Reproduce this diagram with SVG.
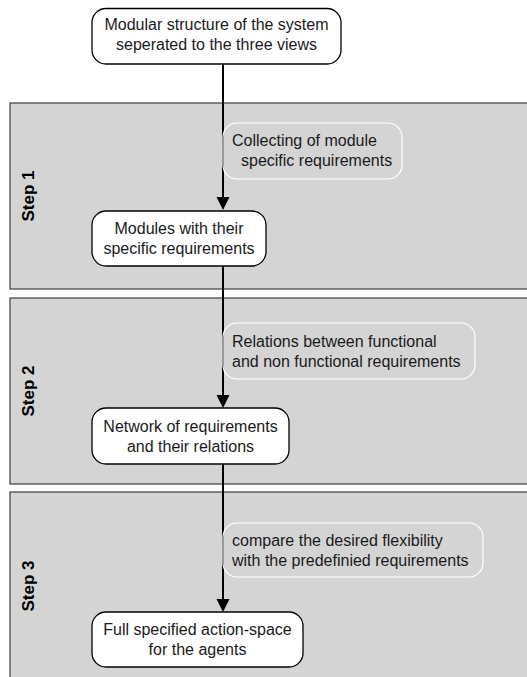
<svg xmlns="http://www.w3.org/2000/svg" width="527" height="677" viewBox="0 0 527 677">
  <defs>
    <style>
      .panel { fill: #d4d4d4; stroke: #3c3c3c; stroke-width: 1.2; }
      .node rect { fill: #ffffff; stroke: #000000; stroke-width: 1.3; }
      .note rect { fill: none; stroke: #ffffff; stroke-width: 1.2; }
      .txt { font-family: "Liberation Sans", Arial, sans-serif; font-size: 16px; fill: #1a1a1a; }
      .step { font-family: "Liberation Sans", Arial, sans-serif; font-size: 17px; font-weight: bold; fill: #000000; }
      .edge { stroke: #000000; stroke-width: 2; fill: none; }
      .head { fill: #000000; }
    </style>
  </defs>

  <!-- step panels -->
  <g id="step1">
    <rect class="panel" x="10" y="103" width="530" height="186"/>
    <text class="step" transform="translate(34 196) rotate(-90)" text-anchor="middle">Step 1</text>
  </g>
  <g id="step2">
    <rect class="panel" x="10" y="298" width="530" height="186"/>
    <text class="step" transform="translate(34 391) rotate(-90)" text-anchor="middle">Step 2</text>
  </g>
  <g id="step3">
    <rect class="panel" x="10" y="492" width="530" height="195"/>
    <text class="step" transform="translate(34 586) rotate(-90)" text-anchor="middle">Step 3</text>
  </g>

  <!-- connectors -->
  <g id="connectors">
    <line class="edge" x1="223" y1="64" x2="223" y2="198"/>
    <polygon class="head" points="216.5,197 229.5,197 223,210"/>
    <line class="edge" x1="223" y1="266" x2="223" y2="396"/>
    <polygon class="head" points="216.5,395 229.5,395 223,408"/>
    <line class="edge" x1="223" y1="464" x2="223" y2="600"/>
    <polygon class="head" points="216.5,599 229.5,599 223,612"/>
  </g>

  <!-- transition notes -->
  <g id="note1" class="note">
    <rect x="223" y="123" width="179" height="56" rx="14"/>
    <text class="txt" x="232" y="146">Collecting of module</text>
    <text class="txt" x="241" y="166">specific requirements</text>
  </g>
  <g id="note2" class="note">
    <rect x="223" y="323" width="252" height="56" rx="14"/>
    <text class="txt" x="232" y="347">Relations between functional</text>
    <text class="txt" x="232" y="367">and non functional requirements</text>
  </g>
  <g id="note3" class="note">
    <rect x="223" y="523" width="260" height="54" rx="14"/>
    <text class="txt" x="232" y="546">compare the desired flexibility</text>
    <text class="txt" x="232" y="566">with the predefinied requirements</text>
  </g>

  <!-- nodes -->
  <g id="node-structure" class="node">
    <rect x="92" y="8.5" width="249" height="55.5" rx="14"/>
    <text class="txt" x="216.5" y="30" text-anchor="middle">Modular structure of the system</text>
    <text class="txt" x="216.5" y="50" text-anchor="middle">seperated to the three views</text>
  </g>
  <g id="node-modules" class="node">
    <rect x="92" y="211" width="174" height="55" rx="14"/>
    <text class="txt" x="179" y="234" text-anchor="middle">Modules with their</text>
    <text class="txt" x="179" y="254" text-anchor="middle">specific requirements</text>
  </g>
  <g id="node-network" class="node">
    <rect x="92" y="408" width="197" height="56" rx="14"/>
    <text class="txt" x="190.5" y="432" text-anchor="middle">Network of requirements</text>
    <text class="txt" x="190.5" y="452" text-anchor="middle">and their relations</text>
  </g>
  <g id="node-actionspace" class="node">
    <rect x="92" y="612" width="211" height="55" rx="14"/>
    <text class="txt" x="197.5" y="635" text-anchor="middle">Full specified action-space</text>
    <text class="txt" x="197.5" y="655" text-anchor="middle">for the agents</text>
  </g>
</svg>
